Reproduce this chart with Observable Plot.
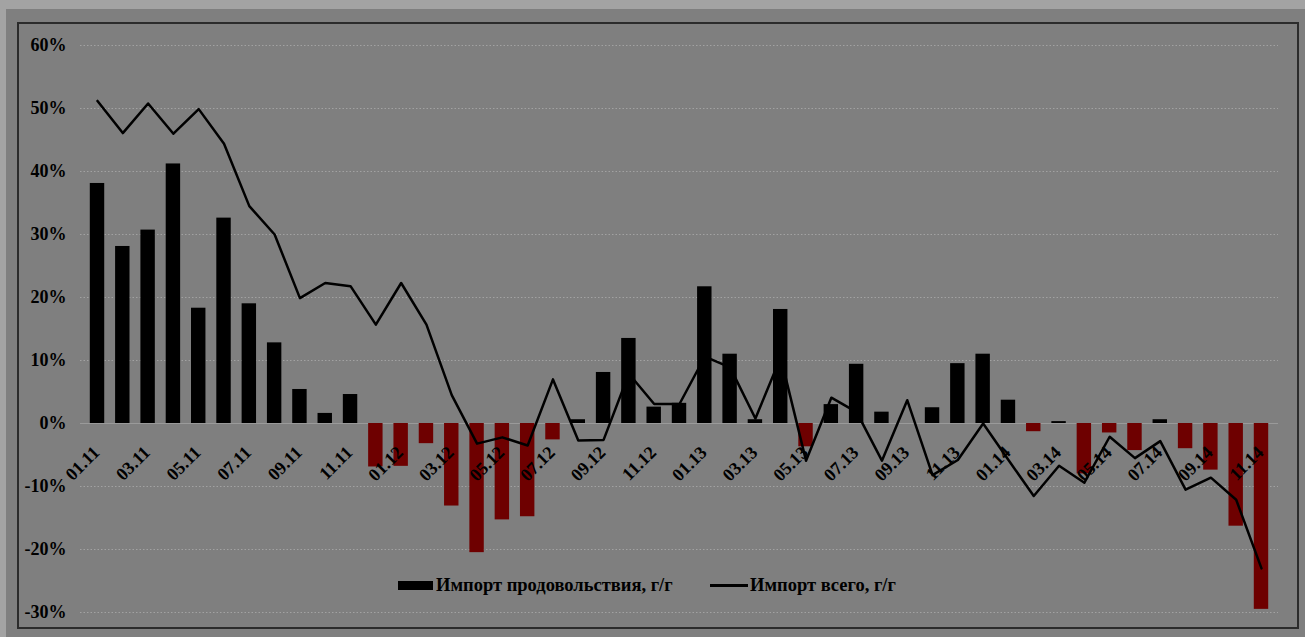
<!DOCTYPE html>
<html><head><meta charset="utf-8">
<script src="https://cdn.jsdelivr.net/npm/d3@7"></script>
<script src="https://cdn.jsdelivr.net/npm/@observablehq/plot@0.6"></script>
<style>
html,body{margin:0;padding:0;}
body{width:1305px;height:637px;background:#a3a3a3;position:relative;overflow:hidden;font-family:"Liberation Serif",serif;}
#bg{position:absolute;left:6px;top:9px;right:0;bottom:0;background:#7f7f7f;}
#frame{position:absolute;left:17px;top:22px;width:1278px;height:603px;border:2px solid #2b2b2b;}
#chart{position:absolute;left:0;top:0;}
.leg{position:absolute;top:575px;font-weight:bold;font-size:18.5px;color:#000;white-space:nowrap;line-height:20px;display:flex;align-items:center;}
.sw-bar{display:inline-block;width:35px;height:9px;background:#000;margin-right:3px;}
.sw-line{display:inline-block;width:38px;height:3px;background:#000;margin-right:2px;}
</style>
</head><body>
<div id="bg"></div>
<div id="frame"></div>
<div id="chart"></div>
<div class="leg" style="left:398px"><span class="sw-bar"></span>Импорт продовольствия, г/г</div>
<div class="leg" style="left:710px"><span class="sw-line"></span>Импорт всего, г/г</div>
<script>
const months = ["01.11","02.11","03.11","04.11","05.11","06.11","07.11","08.11","09.11","10.11","11.11","12.11",
"01.12","02.12","03.12","04.12","05.12","06.12","07.12","08.12","09.12","10.12","11.12","12.12",
"01.13","02.13","03.13","04.13","05.13","06.13","07.13","08.13","09.13","10.13","11.13","12.13",
"01.14","02.14","03.14","04.14","05.14","06.14","07.14","08.14","09.14","10.14","11.14"];
const tickLabels = ["01.11","03.11","05.11","07.11","09.11","11.11","01.12","03.12","05.12","07.12","09.12","11.12",
"01.13","03.13","05.13","07.13","09.13","11.13","01.14","03.14","05.14","07.14","09.14","11.14"];
// Импорт продовольствия, г/г (%)
const food = [38.1,28.1,30.7,41.2,18.3,32.6,19.0,12.8,5.4,1.6,4.6,-6.9,
-6.8,-3.2,-13.1,-20.5,-15.3,-14.8,-2.6,0.6,8.1,13.5,2.6,3.2,
21.7,11.0,0.6,18.1,-3.7,3.0,9.4,1.8,0,2.5,9.5,11.0,
3.7,-1.3,0.3,-8.0,-1.5,-4.3,0.6,-4.0,-7.4,-16.3,-29.5];
// Импорт всего, г/г (%)
const total = [51.2,46.1,50.8,46.0,49.9,44.4,34.5,30.0,19.9,22.3,21.8,15.7,
22.3,15.7,4.5,-3.2,-2.2,-3.5,7.0,-2.7,-2.6,7.9,3.1,3.1,
10.6,8.9,0.8,10.5,-5.9,4.1,1.8,-5.9,3.7,-8.2,-5.8,0.0,
-5.8,-11.5,-6.7,-9.4,-2.1,-5.5,-2.8,-10.5,-8.6,-12.1,-23.0];
const yTicks = [-30,-20,-10,0,10,20,30,40,50,60];

const data = months.map((m,i)=>({m, food: food[i], total: total[i]}));
const labelData = tickLabels.map(m=>({m}));

const plot = Plot.plot({
  width:1305, height:637,
  marginLeft:80, marginRight:27, marginTop:45, marginBottom:25,
  style:{background:"transparent", fontFamily:"'Liberation Serif', serif", fontWeight:"bold", fontSize:"18px", color:"#000"},
  x:{type:"band", domain: months, paddingInner:0.43, paddingOuter:0.387, round:false, axis:null},
  y:{domain:[-30,60], ticks: yTicks, tickFormat: d=>d+"%", tickSize:0, tickPadding:14, label:null},
  marks:[
    Plot.ruleY(yTicks.filter(d=>d!==0), {stroke:"#a2a2a2", strokeDasharray:"1.5,2"}),
    Plot.ruleY([0], {stroke:"#9a9a9a", strokeWidth:1}),
    Plot.barY(data, {x:"m", y:"food", fill: d => d.food >= 0 ? "#000000" : "#6e0000"}),
    Plot.line(data, {x:"m", y:"total", stroke:"#000", strokeWidth:2.5}),
    Plot.text(labelData, {x:"m", y:()=>0, text:"m", rotate:-45, textAnchor:"end", dx:-1, dy:26, fill:"#000", fontSize:18, fontWeight:"bold"})
  ]
});
document.getElementById("chart").appendChild(plot);
</script>
</body></html>
